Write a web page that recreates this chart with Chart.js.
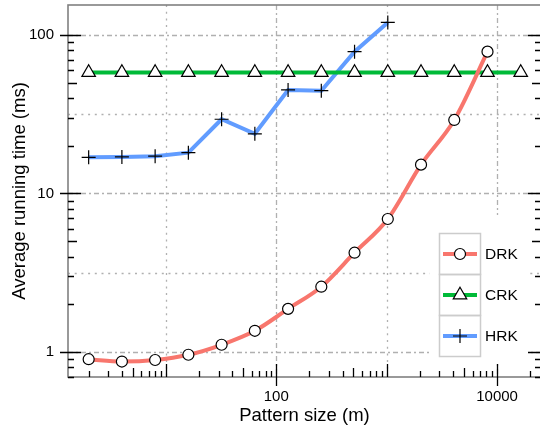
<!DOCTYPE html>
<html>
<head>
<meta charset="utf-8">
<script src="https://cdn.jsdelivr.net/npm/chart.js@4.4.0/dist/chart.umd.min.js"></script>
<style>
  html, body { margin: 0; padding: 0; background: #fff; overflow: hidden; width: 540px; height: 431px; }
  #c { display: block; }
</style>
</head>
<body>
<canvas id="c" width="545" height="431"></canvas>
<script>
// pattern sizes (m), shared by all three series
const patternSizes = [2, 4, 8, 16, 32, 64, 128, 256, 512, 1024, 2048, 4096, 8192, 16384];
// average running time (ms)
const drkTimes = [0.90, 0.87, 0.89, 0.96, 1.11, 1.36, 1.87, 2.58, 4.23, 6.9, 15.2, 29.1, 78.5];
const crkTimes = [58, 58, 58, 58, 58, 58, 58, 58, 58, 58, 58, 58, 58, 58];
const hrkTimes = [16.9, 17.0, 17.2, 18.1, 29.4, 23.8, 45, 44.5, 78.5, 120];

const xTickLabels = [100, 10000];
const yTickLabels = [1, 10, 100];
const xGridDotted = [10, 1000];
const xGridDashDot = [100, 10000];
const yGridDotted = [3.16, 31.6];
const yGridDashDot = [1, 10, 100];

const FONT = "'Liberation Sans', Arial, Helvetica, sans-serif";

function toPoints(values) {
    return values.map((v, i) => ({ x: patternSizes[i], y: v }));
}

const series = [
    { label: 'DRK', data: drkTimes, color: '#F8766D', style: 'circle', radius: 5.5 },
    { label: 'CRK', data: crkTimes, color: '#00BA38', style: 'triangle', radius: 7.8 },
    { label: 'HRK', data: hrkTimes, color: '#619CFF', style: 'cross', radius: 7 }
];

// grid lines, frame and minor ticks drawn from the scales
const axesPlugin = {
    id: 'axesPlugin',
    beforeDatasetsDraw(chart) {
        const { ctx, chartArea: a, scales: { x, y } } = chart;
        ctx.save();
        ctx.lineWidth = 1.3;
        ctx.strokeStyle = '#b0b0b0';

        const vline = (v, dash) => {
            const px = Math.round(x.getPixelForValue(v)) + 0.5;
            ctx.setLineDash(dash);
            ctx.beginPath(); ctx.moveTo(px, a.top); ctx.lineTo(px, a.bottom); ctx.stroke();
        };
        const hline = (v, dash) => {
            const py = Math.round(y.getPixelForValue(v)) + 0.5;
            ctx.setLineDash(dash);
            ctx.beginPath(); ctx.moveTo(a.left, py); ctx.lineTo(a.right, py); ctx.stroke();
        };
        xGridDotted.forEach(v => vline(v, [2, 4.7]));
        xGridDashDot.forEach(v => vline(v, [5, 3, 2, 3]));
        yGridDotted.forEach(v => hline(v, [2, 4.7]));
        yGridDashDot.forEach(v => hline(v, [5, 3, 2, 3]));
        ctx.setLineDash([]);

        // frame
        ctx.strokeStyle = '#808080';
        ctx.lineWidth = 1.6;
        ctx.strokeRect(a.left, a.top, a.right - a.left, a.bottom - a.top);

        // ticks
        ctx.strokeStyle = '#000';
        ctx.lineWidth = 1.3;
        for (let e = -1; e <= 4; e++) {
            for (let m = 1; m <= 9; m++) {
                const v = m * Math.pow(10, e);
                const len = m === 1 ? 13 : (m === 5 ? 9 : 6);
                if (v >= y.min && v <= y.max) {
                    const py = Math.round(y.getPixelForValue(v)) + 0.5;
                    const out = yTickLabels.includes(v) ? 8 : 0;
                    ctx.beginPath();
                    ctx.moveTo(a.left - out, py); ctx.lineTo(a.left + len, py);
                    ctx.moveTo(a.right + out, py); ctx.lineTo(a.right - len, py);
                    ctx.stroke();
                }
                if (v >= x.min && v <= x.max) {
                    const px = Math.round(x.getPixelForValue(v)) + 0.5;
                    const out = xTickLabels.includes(v) ? 9 : 0;
                    ctx.beginPath();
                    ctx.moveTo(px, a.bottom + out); ctx.lineTo(px, a.bottom - len);
                    ctx.stroke();
                }
            }
        }
        ctx.restore();
    },
    afterDraw(chart) {
        const { ctx } = chart;
        ctx.save();
        ctx.fillStyle = '#fff';
        ctx.fillRect(430, 215, 98, 148);
        ctx.strokeStyle = '#cccccc';
        ctx.lineWidth = 1.5;
        const top = 233.5, cellH = 41;
        series.forEach((s, i) => {
            const cy = top + cellH * i;
            ctx.strokeRect(439.5, cy, 41, cellH);
        });
        series.forEach((s, i) => {
            const cy = top + cellH * i + cellH / 2;
            ctx.strokeStyle = s.color;
            ctx.lineWidth = 4;
            ctx.beginPath(); ctx.moveTo(443, cy); ctx.lineTo(477, cy); ctx.stroke();
            ctx.strokeStyle = '#000';
            ctx.fillStyle = '#fff';
            ctx.lineWidth = 1.2;
            Chart.helpers.drawPoint(ctx, { pointStyle: s.style, radius: s.radius, rotation: 0, borderWidth: 1.2 }, 460, cy);
            ctx.fillStyle = '#000';
            ctx.font = '15.5px ' + FONT;
            ctx.textBaseline = 'middle';
            ctx.textAlign = 'left';
            ctx.fillText(s.label, 485, cy + 1);
        });
        ctx.restore();
    }
};

function noPad(s) {
    s.paddingTop = 0; s.paddingBottom = 0; s.paddingLeft = 0; s.paddingRight = 0;
}

new Chart(document.getElementById('c').getContext('2d'), {
    type: 'line',
    data: {
        datasets: series.map(s => ({
            label: s.label,
            data: toPoints(s.data),
            borderColor: s.color,
            backgroundColor: s.color,
            borderWidth: 4,
            pointStyle: s.style,
            pointRadius: s.radius,
            pointBorderColor: '#000',
            pointBackgroundColor: '#fff',
            pointBorderWidth: 1.2,
            cubicInterpolationMode: s.label === 'DRK' ? 'monotone' : 'default',
            tension: 0
        }))
    },
    options: {
        responsive: false,
        animation: false,
        layout: { autoPadding: false, padding: { top: 5, right: 4, left: 0, bottom: 0 } },
        plugins: { legend: { display: false }, tooltip: { enabled: false } },
        scales: {
            x: {
                type: 'logarithmic',
                position: 'bottom',
                min: 1.3,
                max: 25000,
                grid: { display: false, drawTicks: false },
                border: { display: false },
                afterBuildTicks: s => { s.ticks = xTickLabels.map(v => ({ value: v })); },
                afterFit: s => { s.height = 54; noPad(s); },
                ticks: {
                    autoSkip: false, maxRotation: 0, padding: 11, color: '#000',
                    font: { family: FONT, size: 15 },
                    callback: v => String(v)
                },
                title: {
                    display: true, text: 'Pattern size (m)', color: '#000',
                    font: { family: FONT, size: 18.5 },
                    padding: { top: 0, bottom: 3.5 }
                }
            },
            y: {
                type: 'logarithmic',
                position: 'left',
                min: 0.695,
                max: 154.6,
                grid: { display: false, drawTicks: false },
                border: { display: false },
                afterBuildTicks: s => { s.ticks = yTickLabels.map(v => ({ value: v })); },
                afterFit: s => { s.width = 68; noPad(s); },
                ticks: {
                    autoSkip: false, padding: 14, color: '#000',
                    font: { family: FONT, size: 15, lineHeight: 0.5 },
                    callback: v => String(v)
                },
                title: {
                    display: true, text: 'Average running time (ms)', color: '#000',
                    font: { family: FONT, size: 18.5 },
                    padding: { top: 9, bottom: 0 }
                }
            }
        }
    },
    plugins: [axesPlugin]
});
</script>
</body>
</html>
